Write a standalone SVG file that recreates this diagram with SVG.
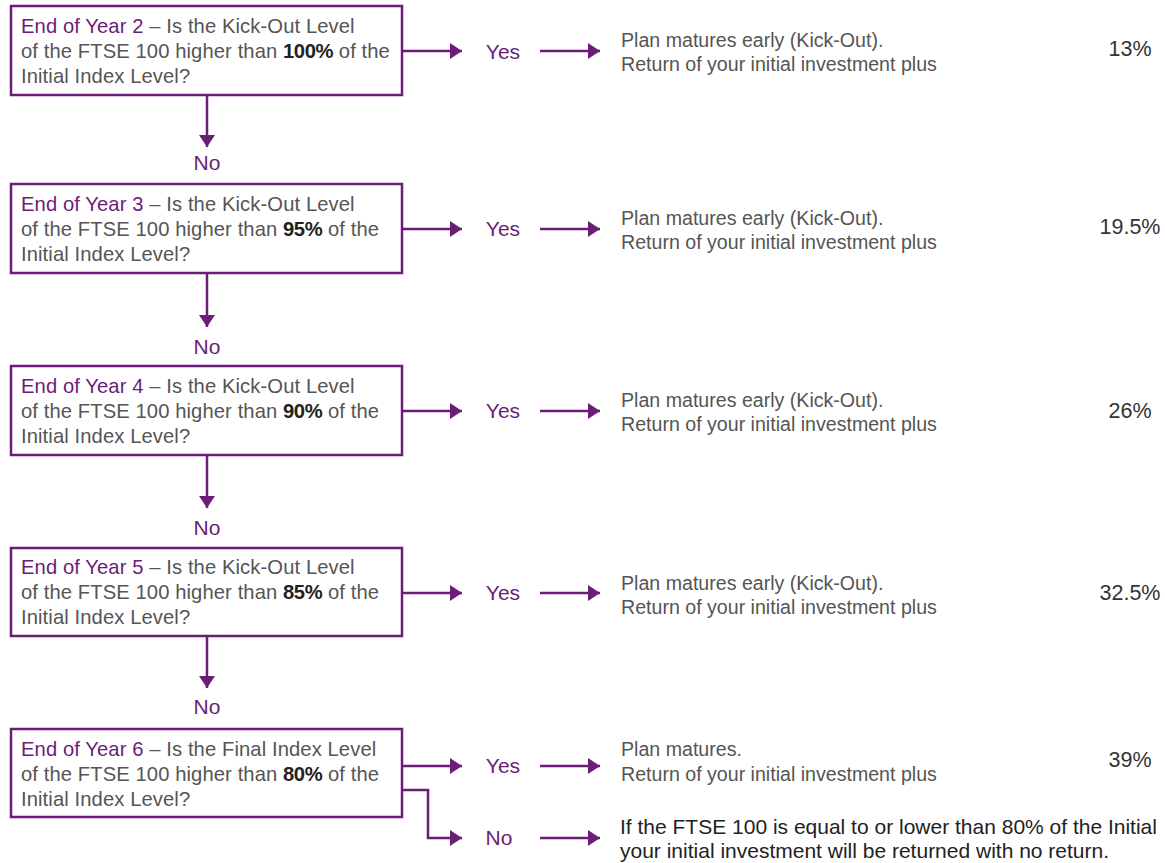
<svg xmlns="http://www.w3.org/2000/svg" width="1165" height="863" viewBox="0 0 1165 863">
<defs>
<marker id="ah" viewBox="0 0 12 16" refX="12" refY="8" markerWidth="12" markerHeight="16" markerUnits="userSpaceOnUse" orient="auto">
<path d="M0,0 L12,8 L0,16 Z" fill="#6b1d78"/>
</marker>
<style>
.box{fill:#fff;stroke:#6b1d78;stroke-width:2.5}
.t{font-family:"Liberation Sans",Arial,sans-serif;font-size:20.2px;fill:#555;letter-spacing:0.1px}
.r{font-family:"Liberation Sans",Arial,sans-serif;font-size:19.6px;fill:#555}
.p{fill:#6b1d78}
.b{fill:#222;font-weight:bold;letter-spacing:-0.4px}
.lbl{font-family:"Liberation Sans",Arial,sans-serif;font-size:21px;fill:#6b1d78;text-anchor:middle}
.pct{font-family:"Liberation Sans",Arial,sans-serif;font-size:21.5px;fill:#333;text-anchor:middle}
.dark{font-family:"Liberation Sans",Arial,sans-serif;font-size:21px;fill:#222}
.c{fill:none;stroke:#6b1d78;stroke-width:2.5;marker-end:url(#ah)}
</style>
</defs>
<rect width="1165" height="863" fill="#fff"/>

<g id="connectors">
<path class="c" d="M402,51 H462"/>
<path class="c" d="M540,51 H600"/>
<path class="c" d="M207,95 V147"/>
<path class="c" d="M402,229 H462"/>
<path class="c" d="M540,229 H600"/>
<path class="c" d="M207,273 V327"/>
<path class="c" d="M402,411 H462"/>
<path class="c" d="M540,411 H600"/>
<path class="c" d="M207,455 V508"/>
<path class="c" d="M402,593 H462"/>
<path class="c" d="M540,593 H600"/>
<path class="c" d="M207,636 V688"/>
<path class="c" d="M402,766 H462"/>
<path class="c" d="M540,766 H600"/>
<path class="c" d="M402,790 H428 V838 H462"/>
<path class="c" d="M540,838 H600"/>
</g>

<g id="q1">
<rect class="box" x="11" y="6" width="391" height="89"/>
<text class="t" x="21" y="33"><tspan class="p">End of Year 2</tspan> – Is the Kick-Out Level</text>
<text class="t" x="21" y="58">of the FTSE 100 higher than <tspan class="b">100%</tspan> of the</text>
<text class="t" x="21" y="83">Initial Index Level?</text>
</g>
<g id="q2">
<rect class="box" x="11" y="184" width="391" height="89"/>
<text class="t" x="21" y="211"><tspan class="p">End of Year 3</tspan> – Is the Kick-Out Level</text>
<text class="t" x="21" y="236">of the FTSE 100 higher than <tspan class="b">95%</tspan> of the</text>
<text class="t" x="21" y="261">Initial Index Level?</text>
</g>
<g id="q3">
<rect class="box" x="11" y="366" width="391" height="89"/>
<text class="t" x="21" y="393"><tspan class="p">End of Year 4</tspan> – Is the Kick-Out Level</text>
<text class="t" x="21" y="418">of the FTSE 100 higher than <tspan class="b">90%</tspan> of the</text>
<text class="t" x="21" y="443">Initial Index Level?</text>
</g>
<g id="q4">
<rect class="box" x="11" y="548" width="391" height="88"/>
<text class="t" x="21" y="574"><tspan class="p">End of Year 5</tspan> – Is the Kick-Out Level</text>
<text class="t" x="21" y="599">of the FTSE 100 higher than <tspan class="b">85%</tspan> of the</text>
<text class="t" x="21" y="624">Initial Index Level?</text>
</g>
<g id="q5">
<rect class="box" x="11" y="729" width="391" height="88"/>
<text class="t" x="21" y="756"><tspan class="p">End of Year 6</tspan> – Is the Final Index Level</text>
<text class="t" x="21" y="781">of the FTSE 100 higher than <tspan class="b">80%</tspan> of the</text>
<text class="t" x="21" y="806">Initial Index Level?</text>
</g>

<g id="labels">
<text class="lbl" x="503" y="59">Yes</text>
<text class="lbl" x="207" y="170">No</text>
<text class="lbl" x="503" y="236">Yes</text>
<text class="lbl" x="207" y="354">No</text>
<text class="lbl" x="503" y="418">Yes</text>
<text class="lbl" x="207" y="535">No</text>
<text class="lbl" x="503" y="600">Yes</text>
<text class="lbl" x="207" y="714">No</text>
<text class="lbl" x="503" y="773">Yes</text>
<text class="lbl" x="499" y="845">No</text>
</g>

<g id="r1">
<text class="r" x="621" y="47">Plan matures early (Kick-Out).</text>
<text class="r" x="621" y="71">Return of your initial investment plus</text>
<text class="pct" x="1130" y="56">13%</text>
</g>
<g id="r2">
<text class="r" x="621" y="225">Plan matures early (Kick-Out).</text>
<text class="r" x="621" y="249">Return of your initial investment plus</text>
<text class="pct" x="1130" y="234">19.5%</text>
</g>
<g id="r3">
<text class="r" x="621" y="407">Plan matures early (Kick-Out).</text>
<text class="r" x="621" y="431">Return of your initial investment plus</text>
<text class="pct" x="1130" y="418">26%</text>
</g>
<g id="r4">
<text class="r" x="621" y="590">Plan matures early (Kick-Out).</text>
<text class="r" x="621" y="614">Return of your initial investment plus</text>
<text class="pct" x="1130" y="600">32.5%</text>
</g>
<g id="r5">
<text class="r" x="621" y="756">Plan matures.</text>
<text class="r" x="621" y="781">Return of your initial investment plus</text>
<text class="pct" x="1130" y="767">39%</text>
</g>
<g id="r6">
<text class="dark" x="620" y="834">If the FTSE 100 is equal to or lower than 80% of the Initial</text>
<text class="dark" x="620" y="858">your initial investment will be returned with no return.</text>
</g>
</svg>
